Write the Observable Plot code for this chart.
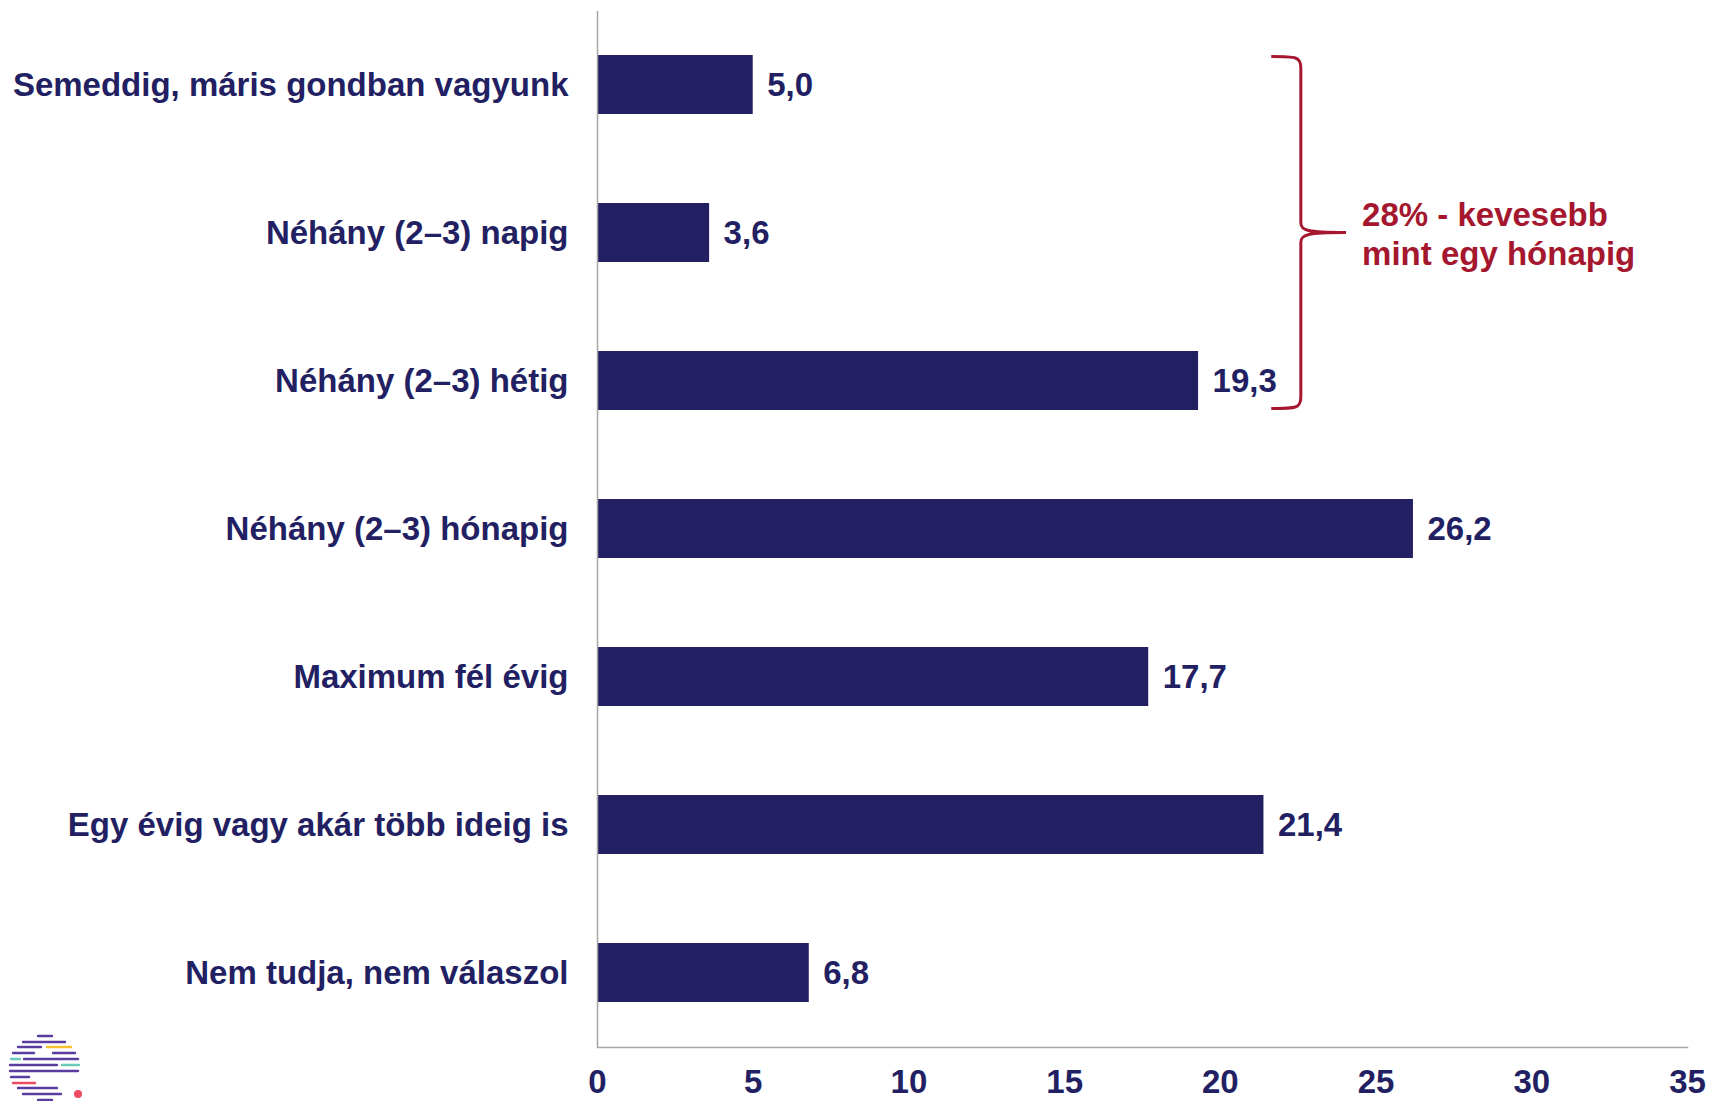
<!DOCTYPE html>
<html>
<head>
<meta charset="utf-8">
<script src="https://cdn.jsdelivr.net/npm/d3@7"></script>
<script src="https://cdn.jsdelivr.net/npm/@observablehq/plot@0.6"></script>
<style>
  html, body { margin: 0; padding: 0; background: #ffffff; }
  #wrap { position: relative; width: 1710px; height: 1101px; overflow: hidden; }
  #logo { position: absolute; left: 0; top: 1030px; }
</style>
</head>
<body>
<div id="wrap"><div id="chart"></div></div>
<script>
// ---- data ----
const categories = [
  "Semeddig, máris gondban vagyunk",
  "Néhány (2–3) napig",
  "Néhány (2–3) hétig",
  "Néhány (2–3) hónapig",
  "Maximum fél évig",
  "Egy évig vagy akár több ideig is",
  "Nem tudja, nem válaszol"
];
const values = [5.0, 3.6, 19.3, 26.2, 17.7, 21.4, 6.8];
const xTicks = [0, 5, 10, 15, 20, 25, 30, 35];
const braceCategories = ["Semeddig, máris gondban vagyunk", "Néhány (2–3) hétig"];
const braceLabel = "28% - kevesebb\nmint egy hónapig";
const braceLabelCategory = "Néhány (2–3) napig";
const braceX = 22.6;      // x position of the brace spine (data units)
const braceEndX = 21.65;  // x of the brace ends
const braceTipX = 24.05;  // x of the brace tip
const braceLabelX = 24.55;

// ---- styling ----
const navy = "#221f63";
const red = "#a5172f";
const axisGray = "#a6a6a6";
const font = "'Liberation Sans', Arial, Helvetica, sans-serif";
const fs = 33;

const rows = categories.map((c, i) => ({category: c, value: values[i]}));
const fmt = v => v.toFixed(1).replace(".", ",");

function braceMark(index, scales, channels, dimensions) {
  const x = scales.x, y = scales.y;
  const y0 = y(braceCategories[0]);
  const y2 = y(braceCategories[1]);
  const step = y(categories[1]) - y(categories[0]);
  let bw = y.bandwidth;
  if (typeof bw === "function") bw = bw();
  if (typeof bw !== "number" || !isFinite(bw)) bw = step * 0.4;
  const yTop = y0 + 1.5;
  const yBot = y2 + bw - 1.5;
  const mid = (yTop + yBot) / 2;
  const xv = x(braceX), xe = x(braceEndX), xt = x(braceTipX);
  const c = xe + (xv - xe) * 0.85;
  const d = [
    `M${xe},${yTop}`,
    `C${c},${yTop} ${xv},${yTop} ${xv},${yTop + 12}`,
    `L${xv},${mid - 10}`,
    `C${xv},${mid - 2} ${xv + 6},${mid} ${xt},${mid}`,
    `C${xv + 6},${mid} ${xv},${mid + 2} ${xv},${mid + 10}`,
    `L${xv},${yBot - 12}`,
    `C${xv},${yBot} ${c},${yBot} ${xe},${yBot}`
  ].join(" ");
  const g = d3.create("svg:g");
  g.append("path").attr("d", d).attr("fill", "none").attr("stroke", red).attr("stroke-width", 3);
  return g.node();
}

const chart = Plot.plot({
  width: 1710,
  height: 1101,
  marginLeft: 597,
  marginRight: 23,
  marginTop: 11,
  marginBottom: 54,
  style: {fontFamily: font, background: "#ffffff", color: navy},
  x: {domain: [0, 35], ticks: xTicks, label: null},
  y: {domain: categories, paddingInner: 0.6, paddingOuter: 0.3, label: null},
  marks: [
    Plot.barX(rows, {x: "value", y: "category", fill: navy}),
    Plot.ruleX([0], {stroke: axisGray, strokeWidth: 1.5}),
    Plot.frame({anchor: "bottom", stroke: axisGray, strokeWidth: 1.5}),
    Plot.text(rows, {
      x: "value", y: "category", text: d => fmt(d.value),
      textAnchor: "start", dx: 14, fill: navy, fontSize: fs, fontWeight: "bold"
    }),
    Plot.axisY({tickSize: 0, tickPadding: 29, fontSize: fs, fontWeight: "bold", fill: navy, label: null}),
    Plot.axisX({ticks: xTicks, tickSize: 0, tickPadding: 22, fontSize: fs, fontWeight: "bold", fill: navy, label: null}),
    braceMark,
    Plot.text([braceLabel], {
      x: () => braceLabelX, y: () => braceLabelCategory, text: d => d,
      textAnchor: "start", lineHeight: 1.2, fill: red, fontSize: fs, fontWeight: "bold"
    })
  ]
});
document.getElementById("chart").appendChild(chart);

// ---- small decorative logo (bottom-left) ----
const logoStripes = [
  [38, 52, 6, "#5a3c9e"], [23, 65, 12, "#5a3c9e"],
  [18, 41, 17, "#5a3c9e"], [47, 71, 17, "#f5c330"],
  [13, 34, 23, "#5a3c9e"], [53, 75, 23, "#5a3c9e"],
  [11, 20, 29, "#6ccabb"], [24, 78, 29, "#5a3c9e"],
  [10, 57, 35, "#5a3c9e"], [62, 79, 35, "#6ccabb"],
  [10, 78, 41, "#5a3c9e"],
  [11, 29, 47, "#5a3c9e"],
  [13, 35, 53, "#ee4b62"],
  [18, 57, 58, "#5a3c9e"],
  [23, 61, 64, "#5a3c9e"],
  [38, 52, 70, "#5a3c9e"]
];
const logo = d3.select("#wrap").append("svg").attr("id", "logo").attr("width", 90).attr("height", 72);
logo.selectAll("line").data(logoStripes).join("line")
  .attr("x1", d => d[0]).attr("x2", d => d[1]).attr("y1", d => d[2]).attr("y2", d => d[2])
  .attr("stroke", d => d[3]).attr("stroke-width", 2.4).attr("stroke-linecap", "round");
logo.append("circle").attr("cx", 78).attr("cy", 64).attr("r", 4).attr("fill", "#ee4b62");
</script>
</body>
</html>
